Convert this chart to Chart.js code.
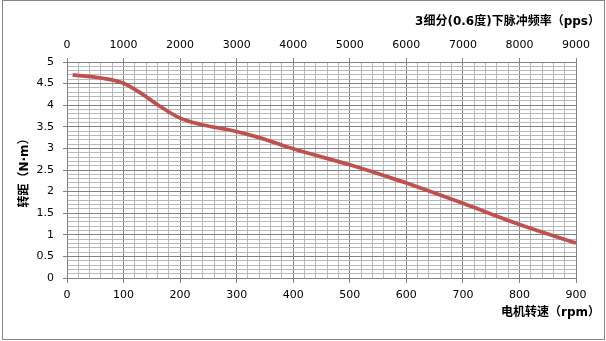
<!DOCTYPE html>
<html>
<head>
<meta charset="utf-8">
<script src="https://cdn.jsdelivr.net/npm/chart.js@4/dist/chart.umd.min.js"></script>
<style>
  html, body { margin: 0; padding: 0; background: #ffffff; }
  #wrap { width: 606px; height: 341px; position: relative; }
</style>
</head>
<body>
<div id="wrap"><canvas id="c" width="606" height="341"></canvas></div>
<script>
// ---- data ----
const speedRpm  = [10, 60, 100, 135, 165, 200, 235, 290, 340, 400, 500, 570, 600, 700, 800, 900];
const torqueNm  = [4.70, 4.63, 4.51, 4.24, 3.97, 3.70, 3.56, 3.42, 3.25, 2.99, 2.62, 2.33, 2.20, 1.73, 1.24, 0.81];
const xTickMajor = 100;      // labelled rpm ticks
const xTickMinor = 20;       // minor grid step (rpm)
const yTickMajor = 0.5;      // labelled torque ticks
const yTickMinor = 0.1;      // minor grid step (N·m)
const ppsTickStep = 1000;    // top axis step
const titleTop    = '3细分(0.6度)下脉冲频率（pps）';
const titleBottom = '电机转速（rpm）';
const titleLeft   = '转距（N·m）';

const points = speedRpm.map((x, i) => ({ x: x, y: torqueNm[i] }));

const MAJOR = '#828282';
const MINOR = '#B8B8B8';
const tickFont = { family: 'DejaVu Sans', size: 11 };
const cjkFont = { family: '"DejaVu Sans", "Noto Sans CJK SC"', size: 12, weight: 'bold' };

const isMajorX = v => Math.abs(v / xTickMajor - Math.round(v / xTickMajor)) < 1e-6;
const isMajorY = v => Math.abs(v / yTickMajor - Math.round(v / yTickMajor)) < 1e-6;

const borderPlugin = {
  id: 'outerBorder',
  afterDraw(chart) {
    const ctx = chart.ctx;
    ctx.save();
    ctx.strokeStyle = '#868686';
    ctx.lineWidth = 1;
    ctx.strokeRect(2.5, 0.5, 602, 339);
    ctx.restore();
  }
};

new Chart(document.getElementById('c'), {
  type: 'line',
  data: {
    datasets: [{
      data: points,
      borderColor: '#C0504D',
      backgroundColor: '#C0504D',
      borderWidth: 3.75,
      pointRadius: 0,
      cubicInterpolationMode: 'monotone',
      fill: false,
      xAxisID: 'x',
      yAxisID: 'y'
    }]
  },
  options: {
    responsive: false,
    animation: false,
    devicePixelRatio: 1,
    layout: { padding: { left: 0, right: 6, top: 0, bottom: 0 } },
    plugins: {
      legend: { display: false },
      tooltip: { enabled: false },
      title: {
        display: true, text: titleTop, position: 'top', align: 'end',
        color: '#000', font: cjkFont, padding: { top: 15, bottom: 4 }
      },
      subtitle: {
        display: true, text: titleBottom, position: 'bottom', align: 'end',
        color: '#000', font: cjkFont, padding: { top: 2, bottom: 21 }
      }
    },
    scales: {
      x: {
        type: 'linear', position: 'bottom', min: 0, max: 900,
        afterFit(s) { s.height = 25.6; },
        ticks: {
          stepSize: xTickMinor, autoSkip: false, maxRotation: 0, minRotation: 0,
          color: '#000', font: tickFont, padding: 6,
          callback: v => isMajorX(v) ? String(Math.round(v)) : ''
        },
        grid: {
          color: c => isMajorX(c.tick.value) ? MAJOR : MINOR,
          tickColor: c => isMajorX(c.tick.value) ? MAJOR : 'rgba(0,0,0,0)',
          tickLength: 5, lineWidth: 1
        },
        border: { color: MAJOR }
      },
      x2: {
        type: 'linear', position: 'top', min: 0, max: 9000,
        afterFit(s) { s.height = 28.6; },
        ticks: {
          stepSize: ppsTickStep, autoSkip: false, maxRotation: 0, minRotation: 0,
          color: '#000', font: tickFont, padding: 6,
          callback: v => String(Math.round(v))
        },
        grid: { drawOnChartArea: false, tickColor: MAJOR, tickLength: 4 },
        border: { color: MAJOR }
      },
      y: {
        type: 'linear', position: 'left', min: 0, max: 5,
        afterFit(s) { s.width = 67; },
        ticks: {
          stepSize: yTickMinor, autoSkip: false,
          color: '#000', font: tickFont, padding: 9,
          callback: v => isMajorY(v) ? String(Math.round(v * 10) / 10) : ''
        },
        grid: {
          color: c => isMajorY(c.tick.value) ? MAJOR : MINOR,
          tickColor: c => isMajorY(c.tick.value) ? MAJOR : 'rgba(0,0,0,0)',
          tickLength: 4, lineWidth: 1
        },
        border: { color: MAJOR },
        title: {
          display: true, text: titleLeft, color: '#000', font: cjkFont,
          padding: { top: 18, bottom: 0 }
        }
      },
      pad: {
        type: 'linear', position: 'right', display: true,
        afterFit(s) { s.width = 24; },
        ticks: { display: false },
        grid: { display: false, drawTicks: false },
        border: { display: false }
      }
    }
  },
  plugins: [borderPlugin]
});
</script>
</body>
</html>
